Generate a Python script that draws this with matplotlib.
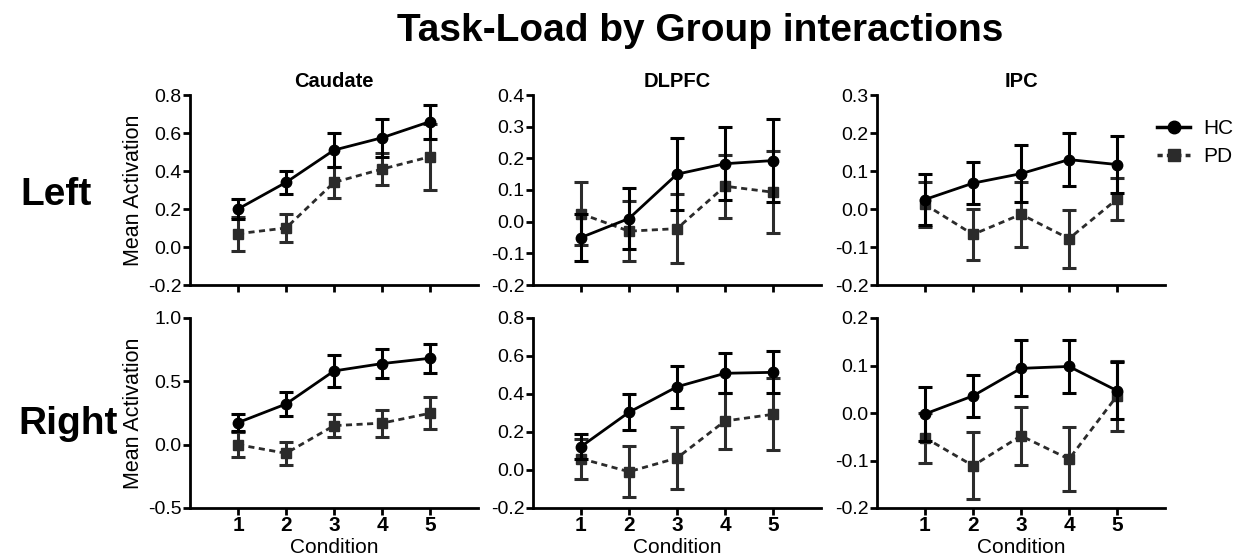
import matplotlib
matplotlib.use("Agg")
import matplotlib.pyplot as plt
from matplotlib.lines import Line2D
import numpy as np

plt.rcParams['font.family'] = ['Liberation Sans', 'DejaVu Sans']

conditions = [1, 2, 3, 4, 5]
regions = ["Caudate", "DLPFC", "IPC"]
sides = ["Left", "Right"]

# Left hemisphere
left_caudate_hc = [0.20, 0.34, 0.51, 0.575, 0.66]
left_caudate_hc_err = [0.055, 0.06, 0.09, 0.10, 0.09]
left_caudate_pd = [0.07, 0.10, 0.34, 0.41, 0.475]
left_caudate_pd_err = [0.09, 0.075, 0.08, 0.085, 0.175]

left_dlpfc_hc = [-0.05, 0.01, 0.15, 0.183, 0.193]
left_dlpfc_hc_err = [0.075, 0.095, 0.113, 0.115, 0.13]
left_dlpfc_pd = [0.025, -0.03, -0.022, 0.112, 0.093]
left_dlpfc_pd_err = [0.10, 0.095, 0.11, 0.10, 0.13]

left_ipc_hc = [0.025, 0.068, 0.093, 0.13, 0.117]
left_ipc_hc_err = [0.068, 0.055, 0.075, 0.07, 0.075]
left_ipc_pd = [0.012, -0.067, -0.014, -0.078, 0.026]
left_ipc_pd_err = [0.06, 0.067, 0.085, 0.076, 0.055]

# Right hemisphere
right_caudate_hc = [0.174, 0.321, 0.582, 0.64, 0.682]
right_caudate_hc_err = [0.068, 0.096, 0.125, 0.116, 0.116]
right_caudate_pd = [0.0, -0.068, 0.15, 0.17, 0.248]
right_caudate_pd_err = [0.10, 0.093, 0.093, 0.107, 0.125]

right_dlpfc_hc = [0.123, 0.304, 0.438, 0.509, 0.514]
right_dlpfc_hc_err = [0.065, 0.095, 0.11, 0.105, 0.11]
right_dlpfc_pd = [0.06, -0.009, 0.063, 0.258, 0.293]
right_dlpfc_pd_err = [0.105, 0.135, 0.163, 0.145, 0.19]

right_ipc_hc = [-0.002, 0.036, 0.094, 0.098, 0.047]
right_ipc_hc_err = [0.056, 0.045, 0.059, 0.056, 0.06]
right_ipc_pd = [-0.052, -0.111, -0.048, -0.097, 0.036]
right_ipc_pd_err = [0.053, 0.07, 0.061, 0.068, 0.074]

hc_data = [[(left_caudate_hc, left_caudate_hc_err), (left_dlpfc_hc, left_dlpfc_hc_err), (left_ipc_hc, left_ipc_hc_err)],
           [(right_caudate_hc, right_caudate_hc_err), (right_dlpfc_hc, right_dlpfc_hc_err), (right_ipc_hc, right_ipc_hc_err)]]
pd_data = [[(left_caudate_pd, left_caudate_pd_err), (left_dlpfc_pd, left_dlpfc_pd_err), (left_ipc_pd, left_ipc_pd_err)],
           [(right_caudate_pd, right_caudate_pd_err), (right_dlpfc_pd, right_dlpfc_pd_err), (right_ipc_pd, right_ipc_pd_err)]]

y_ranges = [[(-0.2, 0.8, 0.2), (-0.2, 0.4, 0.1), (-0.2, 0.3, 0.1)],
            [(-0.5, 1.0, 0.5), (-0.2, 0.8, 0.2), (-0.2, 0.2, 0.1)]]

fig = plt.figure(figsize=(12.44, 5.6), dpi=100)
W, H = 1244.0, 560.0
lefts_px = [190, 533, 877]
width_px = 288
rows_px = [(95, 285), (318, 508)]

hc_color = "#000000"
pd_color = "#2b2b2b"

for r in range(2):
    for c in range(3):
        top, bot = rows_px[r]
        ax = fig.add_axes([lefts_px[c] / W, (H - bot) / H, width_px / W, (bot - top) / H])
        hc, hce = hc_data[r][c]
        pdv, pde = pd_data[r][c]
        ax.errorbar(conditions, pdv, yerr=pde, color=pd_color, ls=(0, (2.2, 1.6)), lw=2,
                    marker='s', ms=7.5, capsize=5, capthick=2.2, elinewidth=2.2, zorder=3)
        ax.errorbar(conditions, hc, yerr=hce, color=hc_color, ls='-', lw=2,
                    marker='o', ms=7.5, capsize=5, capthick=2.2, elinewidth=2.2, zorder=4)
        lo, hi, step = y_ranges[r][c]
        ax.set_ylim(lo, hi)
        ticks = np.round(np.arange(lo, hi + step / 2, step), 2)
        ax.set_yticks(ticks)
        ax.set_yticklabels([f"{t:.1f}" for t in ticks])
        ax.set_xlim(0, 6)
        ax.set_xticks(conditions)
        for s in ['top', 'right']:
            ax.spines[s].set_visible(False)
        for s in ['left', 'bottom']:
            ax.spines[s].set_linewidth(2)
        ax.tick_params(axis='both', width=2, length=5, labelsize=14, pad=1)
        if r == 0:
            ax.set_xticklabels([])
            ax.set_title(regions[c], fontsize=14.5, fontweight='bold', pad=6)
        else:
            ax.set_xticklabels([str(x) for x in conditions], fontsize=15, fontweight='bold')
            ax.set_xlabel("Condition", fontsize=15, labelpad=2)
        if c == 0:
            ax.set_ylabel("Mean Activation", fontsize=15.5, labelpad=3)

fig.text(700 / W, (H - 31) / H, "Task-Load by Group interactions", ha='center', va='center',
         fontsize=28, fontweight='bold')
fig.text(20 / W, (H - 195) / H, "Left", ha='left', va='center', fontsize=28, fontweight='bold')
fig.text(18 / W, (H - 424) / H, "Right", ha='left', va='center', fontsize=28, fontweight='bold')

handles = [Line2D([], [], color=hc_color, ls='-', lw=2.5, marker='o', ms=9),
           Line2D([], [], color=pd_color, ls=(0, (1.5, 1.2)), lw=2.5, marker='s', ms=9)]
fig.legend(handles, ["HC", "PD"], loc='upper left', bbox_to_anchor=(1157 / W, (H - 119) / H),
           frameon=False, fontsize=15, handlelength=1.6, handletextpad=0.6, labelspacing=0.45,
           borderaxespad=0, borderpad=0)

fig.savefig("out.png", dpi=100)
